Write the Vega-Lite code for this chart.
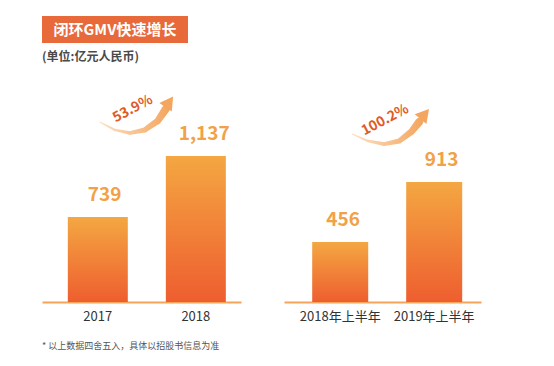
{
  "$schema": "https://vega.github.io/schema/vega-lite/v6.json",
  "padding": {"left": 42, "top": 16, "right": 10, "bottom": 6},
  "background": "white",
  "config": {
    "view": {"stroke": null},
    "font": "Noto Sans CJK SC",
    "axis": {"grid": false, "ticks": false, "title": null, "domainColor": "#F5A459", "domainWidth": 2, "labelColor": "#333333", "labelFontSize": 13, "labelPadding": 8, "labelFont": "Noto Sans CJK SC", "labelAngle": 0}
  },
  "title": {"text": "* 以上数据四舍五入，具体以招股书信息为准", "orient": "bottom", "anchor": "start", "fontSize": 9, "fontWeight": "normal", "color": "#555555", "offset": 19, "font": "Noto Sans CJK SC"},
  "datasets": {
    "gmvA": [{"period": "2017", "gmv": 739}, {"period": "2018", "gmv": 1137}],
    "gmvB": [{"period": "2018年上半年", "gmv": 456}, {"period": "2019年上半年", "gmv": 913}],
    "arrowA": [{"i": 0, "pos": 0.02, "v": 1359}, {"i": 1, "pos": 0.173, "v": 1307}, {"i": 2, "pos": 0.327, "v": 1287}, {"i": 3, "pos": 0.48, "v": 1307}, {"i": 4, "pos": 0.612, "v": 1366}, {"i": 5, "pos": 0.694, "v": 1444}],
    "headA": [{"pos": 0.73, "v": 1490}],
    "growthA": [{"label": "53.9%", "pos": 0.357, "v": 1444}],
    "arrowB": [{"i": 0, "pos": 0.128, "v": 1278}, {"i": 1, "pos": 0.298, "v": 1225}, {"i": 2, "pos": 0.468, "v": 1202}, {"i": 3, "pos": 0.628, "v": 1225}, {"i": 4, "pos": 0.755, "v": 1294}, {"i": 5, "pos": 0.84, "v": 1370}],
    "headB": [{"pos": 0.9, "v": 1430}],
    "growthB": [{"label": "100.2%", "pos": 0.479, "v": 1385}]
  },
  "spacing": 8,
  "vconcat": [
    {
      "width": 146,
      "height": 27,
      "view": {"fill": "#E8693A", "stroke": null},
      "data": {"values": [{"t": "闭环GMV快速增长"}]},
      "mark": {"type": "text", "color": "#FFFFFF", "fontSize": 15, "fontWeight": "bold", "font": "Noto Sans CJK SC"},
      "encoding": {"text": {"field": "t", "type": "nominal"}}
    },
    {
      "title": {"text": "(单位:亿元人民币)", "anchor": "start", "fontSize": 12, "fontWeight": "bold", "color": "#4A4A4A", "offset": 12, "font": "Noto Sans CJK SC"},
      "spacing": 43,
      "hconcat": [
        {
          "width": 199,
          "height": 226,
          "resolve": {"scale": {"x": "independent"}},
          "layer": [
            {
              "data": {"name": "gmvA"},
              "mark": {"type": "bar", "color": {"gradient": "linear", "x1": 0, "y1": 0, "x2": 0, "y2": 1, "stops": [{"offset": 0, "color": "#F4A742"}, {"offset": 1, "color": "#EE5E2F"}]}},
              "encoding": {
                "x": {"field": "period", "type": "nominal", "sort": null, "scale": {"paddingInner": 0.388, "paddingOuter": 0.209, "align": 0.63}},
                "y": {"field": "gmv", "type": "quantitative", "scale": {"domain": [184, 1659], "nice": false, "zero": false, "clamp": true}, "axis": null}
              }
            },
            {
              "data": {"name": "gmvA"},
              "mark": {"type": "text", "baseline": "bottom", "dy": -12, "fontSize": 19, "fontWeight": "bold", "color": "#F2A146"},
              "encoding": {
                "x": {"field": "period", "type": "nominal", "sort": null, "scale": {"paddingInner": 0.388, "paddingOuter": 0.209, "align": 0.63}, "axis": null},
                "y": {"field": "gmv", "type": "quantitative", "scale": {"domain": [184, 1659], "nice": false, "zero": false, "clamp": true}, "axis": null},
                "text": {"field": "gmv", "type": "quantitative", "format": ","}
              }
            },
            {
              "data": {"name": "arrowA"},
              "mark": {"type": "trail", "color": {"gradient": "linear", "x1": 0, "y1": 0, "x2": 1, "y2": 0, "stops": [{"offset": 0, "color": "#FCE2C6"}, {"offset": 1, "color": "#F4A55E"}]}},
              "encoding": {
                "x": {"field": "pos", "type": "quantitative", "scale": {"domain": [-0.569, 1.461], "nice": false, "zero": false}, "axis": null},
                "y": {"field": "v", "type": "quantitative", "scale": {"domain": [184, 1659], "nice": false, "zero": false, "clamp": true}, "axis": null},
                "size": {"field": "i", "type": "quantitative", "scale": {"range": [1, 8]}, "legend": null}
              }
            },
            {
              "data": {"name": "headA"},
              "mark": {"type": "point", "shape": "triangle-up", "filled": true, "size": 230, "angle": 35, "color": "#F4A55E", "opacity": 1},
              "encoding": {
                "x": {"field": "pos", "type": "quantitative", "scale": {"domain": [-0.569, 1.461], "nice": false, "zero": false}, "axis": null},
                "y": {"field": "v", "type": "quantitative", "scale": {"domain": [184, 1659], "nice": false, "zero": false, "clamp": true}, "axis": null}
              }
            },
            {
              "data": {"name": "growthA"},
              "mark": {"type": "text", "angle": -28, "fontSize": 14, "fontWeight": "bold", "color": "#E05A28"},
              "encoding": {
                "x": {"field": "pos", "type": "quantitative", "scale": {"domain": [-0.569, 1.461], "nice": false, "zero": false}, "axis": null},
                "y": {"field": "v", "type": "quantitative", "scale": {"domain": [184, 1659], "nice": false, "zero": false, "clamp": true}, "axis": null},
                "text": {"field": "label", "type": "nominal"}
              }
            }
          ]
        },
        {
          "width": 197,
          "height": 226,
          "resolve": {"scale": {"x": "independent"}},
          "layer": [
            {
              "data": {"name": "gmvB"},
              "mark": {"type": "bar", "color": {"gradient": "linear", "x1": 0, "y1": 0, "x2": 0, "y2": 1, "stops": [{"offset": 0, "color": "#F4A742"}, {"offset": 1, "color": "#EE5E2F"}]}},
              "encoding": {
                "x": {"field": "period", "type": "nominal", "sort": null, "scale": {"paddingInner": 0.404, "paddingOuter": 0.25, "align": 0.6}},
                "y": {"field": "gmv", "type": "quantitative", "scale": {"domain": [0, 1720], "nice": false}, "axis": null}
              }
            },
            {
              "data": {"name": "gmvB"},
              "mark": {"type": "text", "baseline": "bottom", "dy": -12, "fontSize": 19, "fontWeight": "bold", "color": "#F2A146"},
              "encoding": {
                "x": {"field": "period", "type": "nominal", "sort": null, "scale": {"paddingInner": 0.404, "paddingOuter": 0.25, "align": 0.6}, "axis": null},
                "y": {"field": "gmv", "type": "quantitative", "scale": {"domain": [0, 1720], "nice": false}, "axis": null},
                "text": {"field": "gmv", "type": "quantitative", "format": ","}
              }
            },
            {
              "data": {"name": "arrowB"},
              "mark": {"type": "trail", "color": {"gradient": "linear", "x1": 0, "y1": 0, "x2": 1, "y2": 0, "stops": [{"offset": 0, "color": "#FCE2C6"}, {"offset": 1, "color": "#F4A55E"}]}},
              "encoding": {
                "x": {"field": "pos", "type": "quantitative", "scale": {"domain": [-0.598, 1.498], "nice": false, "zero": false}, "axis": null},
                "y": {"field": "v", "type": "quantitative", "scale": {"domain": [0, 1720], "nice": false}, "axis": null},
                "size": {"field": "i", "type": "quantitative", "scale": {"range": [1, 8]}, "legend": null}
              }
            },
            {
              "data": {"name": "headB"},
              "mark": {"type": "point", "shape": "triangle-up", "filled": true, "size": 230, "angle": 40, "color": "#F4A55E", "opacity": 1},
              "encoding": {
                "x": {"field": "pos", "type": "quantitative", "scale": {"domain": [-0.598, 1.498], "nice": false, "zero": false}, "axis": null},
                "y": {"field": "v", "type": "quantitative", "scale": {"domain": [0, 1720], "nice": false}, "axis": null}
              }
            },
            {
              "data": {"name": "growthB"},
              "mark": {"type": "text", "angle": -28, "fontSize": 14, "fontWeight": "bold", "color": "#E05A28"},
              "encoding": {
                "x": {"field": "pos", "type": "quantitative", "scale": {"domain": [-0.598, 1.498], "nice": false, "zero": false}, "axis": null},
                "y": {"field": "v", "type": "quantitative", "scale": {"domain": [0, 1720], "nice": false}, "axis": null},
                "text": {"field": "label", "type": "nominal"}
              }
            }
          ]
        }
      ]
    }
  ]
}
